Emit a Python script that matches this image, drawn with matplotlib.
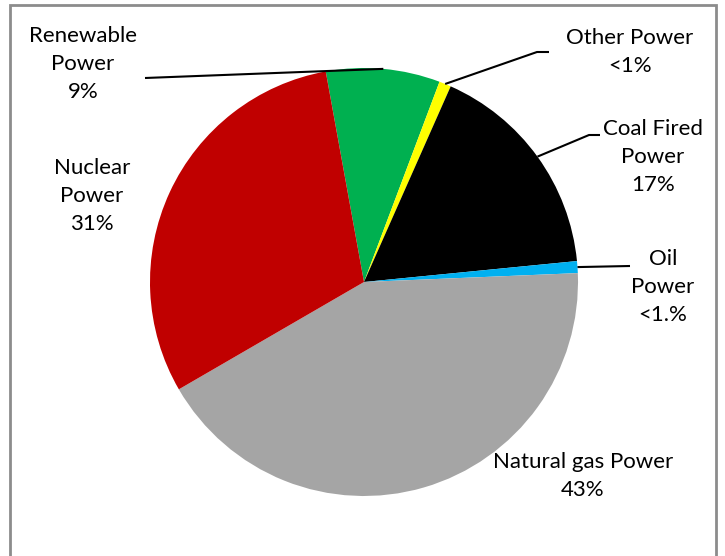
import numpy as np
import matplotlib.pyplot as plt
from matplotlib.patches import Rectangle

# data (percent shares)
labels = ["Renewable\nPower\n9%", "Other Power\n<1%", "Coal Fired\nPower\n17%",
          "Oil\nPower\n<1.%", "Natural gas Power\n43%", "Nuclear\nPower\n31%"]
shares = [8.6, 0.9, 16.8, 0.9, 42.3, 30.5]
colors = ["#00B050", "#FFFF00", "#000000", "#00B0F0", "#A5A5A5", "#C00000"]

W, H = 725, 556
CX, CY, R = 364, H - 282, 214

# label positions in pixel coords (x, y from top), and leader lines (None = no line)
label_pos = [(83, 64), (630, 52), (653, 157), (663, 287), (583, 476), (92, 196)]
leaders = [
    [(145, 78)],
    [(537, 52), (549, 52)],
    [(589, 135), (600, 135)],
    [(630, 266)],
    None,
    None,
]

plt.rcParams["font.family"] = ["Lato", "DejaVu Sans"]
fig = plt.figure(figsize=(W / 100, H / 100), dpi=100)
ax = fig.add_axes([0, 0, 1, 1])

wedges, _ = ax.pie(shares, colors=colors, startangle=100.3, counterclock=False,
                   center=(CX, CY), radius=R, frame=True,
                   wedgeprops=dict(linewidth=0))
ax.set_xlim(0, W)
ax.set_ylim(0, H)
ax.set_aspect("equal")
ax.axis("off")

for w, txt, (lx, ly), lead in zip(wedges, labels, label_pos, leaders):
    ax.text(lx, H - ly, txt, ha="center", va="center", fontsize=16,
            linespacing=1.52, color="black")
    if lead is None:
        continue
    th = np.deg2rad((w.theta1 + w.theta2) / 2)
    xs = [CX + R * np.cos(th)] + [p[0] for p in lead]
    ys = [CY + R * np.sin(th)] + [H - p[1] for p in lead]
    ax.plot(xs, ys, color="black", lw=1.5, solid_capstyle="butt")

# chart border (bottom edge falls outside the image)
ax.add_patch(Rectangle((10.5, -20), 706, H - 5 + 20, fill=False,
                       edgecolor="#8C8C8C", lw=2, clip_on=False))

fig.savefig("out.png", dpi=100)
